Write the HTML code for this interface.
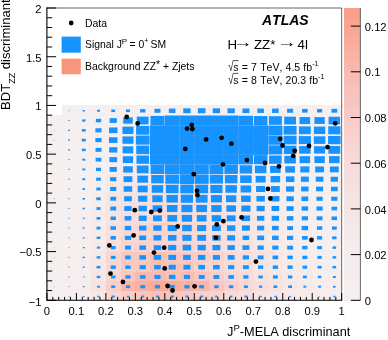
<!DOCTYPE html>
<html><head><meta charset="utf-8"><title>ATLAS plot</title>
<style>html,body{margin:0;padding:0;background:#fff}svg{display:block;will-change:transform}</style>
</head><body>
<svg width="388" height="340" viewBox="0 0 388 340" font-family="'Liberation Sans', Arial, sans-serif" fill="#000" style="font-kerning:none">
<rect width="388" height="340" fill="#fff"/>
<clipPath id="fr"><rect x="46.90" y="8.00" width="294.80" height="292.80"/></clipPath>
<g clip-path="url(#fr)">
<g shape-rendering="crispEdges">
<rect x="61.64" y="105.43" width="14.79" height="9.83" fill="#f6efef"/>
<rect x="76.38" y="105.43" width="14.79" height="9.83" fill="#f6efef"/>
<rect x="91.12" y="105.43" width="14.79" height="9.83" fill="#f6efef"/>
<rect x="105.86" y="105.43" width="14.79" height="9.83" fill="#f6efef"/>
<rect x="120.60" y="105.43" width="14.79" height="9.83" fill="#f6efef"/>
<rect x="135.34" y="105.43" width="14.79" height="9.83" fill="#f6efef"/>
<rect x="150.08" y="105.43" width="14.79" height="9.83" fill="#f6efef"/>
<rect x="164.82" y="105.43" width="14.79" height="9.83" fill="#f6efef"/>
<rect x="179.56" y="105.43" width="14.79" height="9.83" fill="#f6efef"/>
<rect x="194.30" y="105.43" width="14.79" height="9.83" fill="#f6efef"/>
<rect x="209.04" y="105.43" width="14.79" height="9.83" fill="#f6efef"/>
<rect x="223.78" y="105.43" width="14.79" height="9.83" fill="#f6efef"/>
<rect x="238.52" y="105.43" width="14.79" height="9.83" fill="#f6efef"/>
<rect x="253.26" y="105.43" width="14.79" height="9.83" fill="#f6efef"/>
<rect x="268.00" y="105.43" width="14.79" height="9.83" fill="#f6efef"/>
<rect x="282.74" y="105.43" width="14.79" height="9.83" fill="#f6efef"/>
<rect x="297.48" y="105.43" width="14.79" height="9.83" fill="#f6efef"/>
<rect x="312.22" y="105.43" width="14.79" height="9.83" fill="#f6efef"/>
<rect x="326.96" y="105.43" width="14.79" height="9.83" fill="#f6efef"/>
<rect x="46.90" y="115.21" width="14.79" height="9.83" fill="#f6efef"/>
<rect x="61.64" y="115.21" width="14.79" height="9.83" fill="#f6efef"/>
<rect x="76.38" y="115.21" width="14.79" height="9.83" fill="#f6efef"/>
<rect x="91.12" y="115.21" width="14.79" height="9.83" fill="#f6efef"/>
<rect x="105.86" y="115.21" width="14.79" height="9.83" fill="#f6efef"/>
<rect x="120.60" y="115.21" width="14.79" height="9.83" fill="#f6efef"/>
<rect x="135.34" y="115.21" width="14.79" height="9.83" fill="#f6efef"/>
<rect x="150.08" y="115.21" width="14.79" height="9.83" fill="#f6efee"/>
<rect x="164.82" y="115.21" width="14.79" height="9.83" fill="#f6efef"/>
<rect x="179.56" y="115.21" width="14.79" height="9.83" fill="#f6efef"/>
<rect x="194.30" y="115.21" width="14.79" height="9.83" fill="#f6efef"/>
<rect x="209.04" y="115.21" width="14.79" height="9.83" fill="#f6efef"/>
<rect x="223.78" y="115.21" width="14.79" height="9.83" fill="#f6efef"/>
<rect x="238.52" y="115.21" width="14.79" height="9.83" fill="#f6efef"/>
<rect x="253.26" y="115.21" width="14.79" height="9.83" fill="#f6efef"/>
<rect x="268.00" y="115.21" width="14.79" height="9.83" fill="#f6efef"/>
<rect x="282.74" y="115.21" width="14.79" height="9.83" fill="#f6efef"/>
<rect x="297.48" y="115.21" width="14.79" height="9.83" fill="#f6efef"/>
<rect x="312.22" y="115.21" width="14.79" height="9.83" fill="#f6efef"/>
<rect x="326.96" y="115.21" width="14.79" height="9.83" fill="#f6efef"/>
<rect x="46.90" y="124.98" width="14.79" height="9.83" fill="#f6efef"/>
<rect x="61.64" y="124.98" width="14.79" height="9.83" fill="#f6efef"/>
<rect x="76.38" y="124.98" width="14.79" height="9.83" fill="#f6efef"/>
<rect x="91.12" y="124.98" width="14.79" height="9.83" fill="#f6efef"/>
<rect x="105.86" y="124.98" width="14.79" height="9.83" fill="#f6efef"/>
<rect x="120.60" y="124.98" width="14.79" height="9.83" fill="#f6efef"/>
<rect x="135.34" y="124.98" width="14.79" height="9.83" fill="#f6efef"/>
<rect x="150.08" y="124.98" width="14.79" height="9.83" fill="#f6efee"/>
<rect x="164.82" y="124.98" width="14.79" height="9.83" fill="#f6efef"/>
<rect x="179.56" y="124.98" width="14.79" height="9.83" fill="#f6efef"/>
<rect x="194.30" y="124.98" width="14.79" height="9.83" fill="#f6efef"/>
<rect x="209.04" y="124.98" width="14.79" height="9.83" fill="#f6efef"/>
<rect x="223.78" y="124.98" width="14.79" height="9.83" fill="#f6efef"/>
<rect x="238.52" y="124.98" width="14.79" height="9.83" fill="#f6efef"/>
<rect x="253.26" y="124.98" width="14.79" height="9.83" fill="#f6efef"/>
<rect x="268.00" y="124.98" width="14.79" height="9.83" fill="#f6efef"/>
<rect x="282.74" y="124.98" width="14.79" height="9.83" fill="#f6efef"/>
<rect x="297.48" y="124.98" width="14.79" height="9.83" fill="#f6efef"/>
<rect x="312.22" y="124.98" width="14.79" height="9.83" fill="#f6efef"/>
<rect x="326.96" y="124.98" width="14.79" height="9.83" fill="#f6efef"/>
<rect x="46.90" y="134.76" width="14.79" height="9.83" fill="#f6efef"/>
<rect x="61.64" y="134.76" width="14.79" height="9.83" fill="#f6efef"/>
<rect x="76.38" y="134.76" width="14.79" height="9.83" fill="#f6efef"/>
<rect x="91.12" y="134.76" width="14.79" height="9.83" fill="#f6efef"/>
<rect x="105.86" y="134.76" width="14.79" height="9.83" fill="#f6efef"/>
<rect x="120.60" y="134.76" width="14.79" height="9.83" fill="#f6efef"/>
<rect x="135.34" y="134.76" width="14.79" height="9.83" fill="#f6efee"/>
<rect x="150.08" y="134.76" width="14.79" height="9.83" fill="#f6efee"/>
<rect x="164.82" y="134.76" width="14.79" height="9.83" fill="#f6efef"/>
<rect x="179.56" y="134.76" width="14.79" height="9.83" fill="#f6efef"/>
<rect x="194.30" y="134.76" width="14.79" height="9.83" fill="#f6efef"/>
<rect x="209.04" y="134.76" width="14.79" height="9.83" fill="#f6efef"/>
<rect x="223.78" y="134.76" width="14.79" height="9.83" fill="#f6efef"/>
<rect x="238.52" y="134.76" width="14.79" height="9.83" fill="#f6efef"/>
<rect x="253.26" y="134.76" width="14.79" height="9.83" fill="#f6efef"/>
<rect x="268.00" y="134.76" width="14.79" height="9.83" fill="#f6efef"/>
<rect x="282.74" y="134.76" width="14.79" height="9.83" fill="#f6efef"/>
<rect x="297.48" y="134.76" width="14.79" height="9.83" fill="#f6efef"/>
<rect x="312.22" y="134.76" width="14.79" height="9.83" fill="#f6efef"/>
<rect x="326.96" y="134.76" width="14.79" height="9.83" fill="#f6efef"/>
<rect x="46.90" y="144.53" width="14.79" height="9.83" fill="#f6efef"/>
<rect x="61.64" y="144.53" width="14.79" height="9.83" fill="#f6efef"/>
<rect x="76.38" y="144.53" width="14.79" height="9.83" fill="#f6efef"/>
<rect x="91.12" y="144.53" width="14.79" height="9.83" fill="#f6efef"/>
<rect x="105.86" y="144.53" width="14.79" height="9.83" fill="#f6efef"/>
<rect x="120.60" y="144.53" width="14.79" height="9.83" fill="#f6efef"/>
<rect x="135.34" y="144.53" width="14.79" height="9.83" fill="#f6efef"/>
<rect x="150.08" y="144.53" width="14.79" height="9.83" fill="#f6efee"/>
<rect x="164.82" y="144.53" width="14.79" height="9.83" fill="#f6efef"/>
<rect x="179.56" y="144.53" width="14.79" height="9.83" fill="#f6efef"/>
<rect x="194.30" y="144.53" width="14.79" height="9.83" fill="#f6efef"/>
<rect x="209.04" y="144.53" width="14.79" height="9.83" fill="#f6efef"/>
<rect x="223.78" y="144.53" width="14.79" height="9.83" fill="#f6efef"/>
<rect x="238.52" y="144.53" width="14.79" height="9.83" fill="#f6efef"/>
<rect x="253.26" y="144.53" width="14.79" height="9.83" fill="#f6efef"/>
<rect x="268.00" y="144.53" width="14.79" height="9.83" fill="#f6efef"/>
<rect x="282.74" y="144.53" width="14.79" height="9.83" fill="#f6efef"/>
<rect x="297.48" y="144.53" width="14.79" height="9.83" fill="#f6efef"/>
<rect x="312.22" y="144.53" width="14.79" height="9.83" fill="#f6efef"/>
<rect x="326.96" y="144.53" width="14.79" height="9.83" fill="#f6efef"/>
<rect x="46.90" y="154.31" width="14.79" height="9.83" fill="#f6efef"/>
<rect x="61.64" y="154.31" width="14.79" height="9.83" fill="#f6efef"/>
<rect x="76.38" y="154.31" width="14.79" height="9.83" fill="#f6efef"/>
<rect x="91.12" y="154.31" width="14.79" height="9.83" fill="#f6efef"/>
<rect x="105.86" y="154.31" width="14.79" height="9.83" fill="#f6eeee"/>
<rect x="120.60" y="154.31" width="14.79" height="9.83" fill="#f6eded"/>
<rect x="135.34" y="154.31" width="14.79" height="9.83" fill="#f6eded"/>
<rect x="150.08" y="154.31" width="14.79" height="9.83" fill="#f6edec"/>
<rect x="164.82" y="154.31" width="14.79" height="9.83" fill="#f6edec"/>
<rect x="179.56" y="154.31" width="14.79" height="9.83" fill="#f6eded"/>
<rect x="194.30" y="154.31" width="14.79" height="9.83" fill="#f6eded"/>
<rect x="209.04" y="154.31" width="14.79" height="9.83" fill="#f6eeed"/>
<rect x="223.78" y="154.31" width="14.79" height="9.83" fill="#f6eeee"/>
<rect x="238.52" y="154.31" width="14.79" height="9.83" fill="#f6efee"/>
<rect x="253.26" y="154.31" width="14.79" height="9.83" fill="#f6efef"/>
<rect x="268.00" y="154.31" width="14.79" height="9.83" fill="#f6efef"/>
<rect x="282.74" y="154.31" width="14.79" height="9.83" fill="#f6efef"/>
<rect x="297.48" y="154.31" width="14.79" height="9.83" fill="#f6efef"/>
<rect x="312.22" y="154.31" width="14.79" height="9.83" fill="#f6efef"/>
<rect x="326.96" y="154.31" width="14.79" height="9.83" fill="#f6efef"/>
<rect x="46.90" y="164.08" width="14.79" height="9.83" fill="#f6efef"/>
<rect x="61.64" y="164.08" width="14.79" height="9.83" fill="#f6efef"/>
<rect x="76.38" y="164.08" width="14.79" height="9.83" fill="#f6efef"/>
<rect x="91.12" y="164.08" width="14.79" height="9.83" fill="#f6efef"/>
<rect x="105.86" y="164.08" width="14.79" height="9.83" fill="#f6edec"/>
<rect x="120.60" y="164.08" width="14.79" height="9.83" fill="#f6ebea"/>
<rect x="135.34" y="164.08" width="14.79" height="9.83" fill="#f7ebea"/>
<rect x="150.08" y="164.08" width="14.79" height="9.83" fill="#f7ebea"/>
<rect x="164.82" y="164.08" width="14.79" height="9.83" fill="#f7eaea"/>
<rect x="179.56" y="164.08" width="14.79" height="9.83" fill="#f6ebea"/>
<rect x="194.30" y="164.08" width="14.79" height="9.83" fill="#f6eceb"/>
<rect x="209.04" y="164.08" width="14.79" height="9.83" fill="#f6ecec"/>
<rect x="223.78" y="164.08" width="14.79" height="9.83" fill="#f6eded"/>
<rect x="238.52" y="164.08" width="14.79" height="9.83" fill="#f6eeed"/>
<rect x="253.26" y="164.08" width="14.79" height="9.83" fill="#f6eeee"/>
<rect x="268.00" y="164.08" width="14.79" height="9.83" fill="#f6efee"/>
<rect x="282.74" y="164.08" width="14.79" height="9.83" fill="#f6efef"/>
<rect x="297.48" y="164.08" width="14.79" height="9.83" fill="#f6efef"/>
<rect x="312.22" y="164.08" width="14.79" height="9.83" fill="#f6efef"/>
<rect x="326.96" y="164.08" width="14.79" height="9.83" fill="#f6efef"/>
<rect x="46.90" y="173.86" width="14.79" height="9.83" fill="#f6efef"/>
<rect x="61.64" y="173.86" width="14.79" height="9.83" fill="#f6efef"/>
<rect x="76.38" y="173.86" width="14.79" height="9.83" fill="#f6efef"/>
<rect x="91.12" y="173.86" width="14.79" height="9.83" fill="#f6eeee"/>
<rect x="105.86" y="173.86" width="14.79" height="9.83" fill="#f7ebea"/>
<rect x="120.60" y="173.86" width="14.79" height="9.83" fill="#f7e8e7"/>
<rect x="135.34" y="173.86" width="14.79" height="9.83" fill="#f7e8e7"/>
<rect x="150.08" y="173.86" width="14.79" height="9.83" fill="#f7e8e6"/>
<rect x="164.82" y="173.86" width="14.79" height="9.83" fill="#f7e7e6"/>
<rect x="179.56" y="173.86" width="14.79" height="9.83" fill="#f7e8e7"/>
<rect x="194.30" y="173.86" width="14.79" height="9.83" fill="#f7e9e7"/>
<rect x="209.04" y="173.86" width="14.79" height="9.83" fill="#f7eae9"/>
<rect x="223.78" y="173.86" width="14.79" height="9.83" fill="#f6ebeb"/>
<rect x="238.52" y="173.86" width="14.79" height="9.83" fill="#f6eceb"/>
<rect x="253.26" y="173.86" width="14.79" height="9.83" fill="#f6eded"/>
<rect x="268.00" y="173.86" width="14.79" height="9.83" fill="#f6eeee"/>
<rect x="282.74" y="173.86" width="14.79" height="9.83" fill="#f6efee"/>
<rect x="297.48" y="173.86" width="14.79" height="9.83" fill="#f6efef"/>
<rect x="312.22" y="173.86" width="14.79" height="9.83" fill="#f6efef"/>
<rect x="326.96" y="173.86" width="14.79" height="9.83" fill="#f6efef"/>
<rect x="46.90" y="183.63" width="14.79" height="9.83" fill="#f6efef"/>
<rect x="61.64" y="183.63" width="14.79" height="9.83" fill="#f6efef"/>
<rect x="76.38" y="183.63" width="14.79" height="9.83" fill="#f6efef"/>
<rect x="91.12" y="183.63" width="14.79" height="9.83" fill="#f6eded"/>
<rect x="105.86" y="183.63" width="14.79" height="9.83" fill="#f7e9e8"/>
<rect x="120.60" y="183.63" width="14.79" height="9.83" fill="#f7e4e2"/>
<rect x="135.34" y="183.63" width="14.79" height="9.83" fill="#f7e4e2"/>
<rect x="150.08" y="183.63" width="14.79" height="9.83" fill="#f7e3e1"/>
<rect x="164.82" y="183.63" width="14.79" height="9.83" fill="#f7e4e2"/>
<rect x="179.56" y="183.63" width="14.79" height="9.83" fill="#f7e5e3"/>
<rect x="194.30" y="183.63" width="14.79" height="9.83" fill="#f7e5e4"/>
<rect x="209.04" y="183.63" width="14.79" height="9.83" fill="#f7e7e5"/>
<rect x="223.78" y="183.63" width="14.79" height="9.83" fill="#f7e9e7"/>
<rect x="238.52" y="183.63" width="14.79" height="9.83" fill="#f7eaea"/>
<rect x="253.26" y="183.63" width="14.79" height="9.83" fill="#f6eceb"/>
<rect x="268.00" y="183.63" width="14.79" height="9.83" fill="#f6eded"/>
<rect x="282.74" y="183.63" width="14.79" height="9.83" fill="#f6eeee"/>
<rect x="297.48" y="183.63" width="14.79" height="9.83" fill="#f6efef"/>
<rect x="312.22" y="183.63" width="14.79" height="9.83" fill="#f6efef"/>
<rect x="326.96" y="183.63" width="14.79" height="9.83" fill="#f6efef"/>
<rect x="46.90" y="193.41" width="14.79" height="9.83" fill="#f6efef"/>
<rect x="61.64" y="193.41" width="14.79" height="9.83" fill="#f6efef"/>
<rect x="76.38" y="193.41" width="14.79" height="9.83" fill="#f6efef"/>
<rect x="91.12" y="193.41" width="14.79" height="9.83" fill="#f6ecec"/>
<rect x="105.86" y="193.41" width="14.79" height="9.83" fill="#f7e5e4"/>
<rect x="120.60" y="193.41" width="14.79" height="9.83" fill="#f7e1df"/>
<rect x="135.34" y="193.41" width="14.79" height="9.83" fill="#f8dfdc"/>
<rect x="150.08" y="193.41" width="14.79" height="9.83" fill="#f8dedb"/>
<rect x="164.82" y="193.41" width="14.79" height="9.83" fill="#f8dfdc"/>
<rect x="179.56" y="193.41" width="14.79" height="9.83" fill="#f7e1df"/>
<rect x="194.30" y="193.41" width="14.79" height="9.83" fill="#f7e3e1"/>
<rect x="209.04" y="193.41" width="14.79" height="9.83" fill="#f7e5e3"/>
<rect x="223.78" y="193.41" width="14.79" height="9.83" fill="#f7e7e6"/>
<rect x="238.52" y="193.41" width="14.79" height="9.83" fill="#f7e9e8"/>
<rect x="253.26" y="193.41" width="14.79" height="9.83" fill="#f7ebea"/>
<rect x="268.00" y="193.41" width="14.79" height="9.83" fill="#f6ecec"/>
<rect x="282.74" y="193.41" width="14.79" height="9.83" fill="#f6eded"/>
<rect x="297.48" y="193.41" width="14.79" height="9.83" fill="#f6eeee"/>
<rect x="312.22" y="193.41" width="14.79" height="9.83" fill="#f6efef"/>
<rect x="326.96" y="193.41" width="14.79" height="9.83" fill="#f6efef"/>
<rect x="46.90" y="203.18" width="14.79" height="9.83" fill="#f6efef"/>
<rect x="61.64" y="203.18" width="14.79" height="9.83" fill="#f6efef"/>
<rect x="76.38" y="203.18" width="14.79" height="9.83" fill="#f6efee"/>
<rect x="91.12" y="203.18" width="14.79" height="9.83" fill="#f6eceb"/>
<rect x="105.86" y="203.18" width="14.79" height="9.83" fill="#f7e4e2"/>
<rect x="120.60" y="203.18" width="14.79" height="9.83" fill="#f8dfdd"/>
<rect x="135.34" y="203.18" width="14.79" height="9.83" fill="#f8dedb"/>
<rect x="150.08" y="203.18" width="14.79" height="9.83" fill="#f8dcd9"/>
<rect x="164.82" y="203.18" width="14.79" height="9.83" fill="#f8dedb"/>
<rect x="179.56" y="203.18" width="14.79" height="9.83" fill="#f8dedb"/>
<rect x="194.30" y="203.18" width="14.79" height="9.83" fill="#f8e0dd"/>
<rect x="209.04" y="203.18" width="14.79" height="9.83" fill="#f7e3e1"/>
<rect x="223.78" y="203.18" width="14.79" height="9.83" fill="#f7e6e4"/>
<rect x="238.52" y="203.18" width="14.79" height="9.83" fill="#f7e7e6"/>
<rect x="253.26" y="203.18" width="14.79" height="9.83" fill="#f7eae9"/>
<rect x="268.00" y="203.18" width="14.79" height="9.83" fill="#f6eceb"/>
<rect x="282.74" y="203.18" width="14.79" height="9.83" fill="#f6eded"/>
<rect x="297.48" y="203.18" width="14.79" height="9.83" fill="#f6eeee"/>
<rect x="312.22" y="203.18" width="14.79" height="9.83" fill="#f6efef"/>
<rect x="326.96" y="203.18" width="14.79" height="9.83" fill="#f6efef"/>
<rect x="46.90" y="212.96" width="14.79" height="9.83" fill="#f6efef"/>
<rect x="61.64" y="212.96" width="14.79" height="9.83" fill="#f6efef"/>
<rect x="76.38" y="212.96" width="14.79" height="9.83" fill="#f6eeee"/>
<rect x="91.12" y="212.96" width="14.79" height="9.83" fill="#f6ebea"/>
<rect x="105.86" y="212.96" width="14.79" height="9.83" fill="#f7e3e1"/>
<rect x="120.60" y="212.96" width="14.79" height="9.83" fill="#f8ddda"/>
<rect x="135.34" y="212.96" width="14.79" height="9.83" fill="#f8dcd9"/>
<rect x="150.08" y="212.96" width="14.79" height="9.83" fill="#f8dcd9"/>
<rect x="164.82" y="212.96" width="14.79" height="9.83" fill="#f8d9d6"/>
<rect x="179.56" y="212.96" width="14.79" height="9.83" fill="#f8dcd9"/>
<rect x="194.30" y="212.96" width="14.79" height="9.83" fill="#f8dfdc"/>
<rect x="209.04" y="212.96" width="14.79" height="9.83" fill="#f7e0de"/>
<rect x="223.78" y="212.96" width="14.79" height="9.83" fill="#f7e4e2"/>
<rect x="238.52" y="212.96" width="14.79" height="9.83" fill="#f7e6e5"/>
<rect x="253.26" y="212.96" width="14.79" height="9.83" fill="#f7e9e8"/>
<rect x="268.00" y="212.96" width="14.79" height="9.83" fill="#f6ebeb"/>
<rect x="282.74" y="212.96" width="14.79" height="9.83" fill="#f6edec"/>
<rect x="297.48" y="212.96" width="14.79" height="9.83" fill="#f6eeee"/>
<rect x="312.22" y="212.96" width="14.79" height="9.83" fill="#f6efef"/>
<rect x="326.96" y="212.96" width="14.79" height="9.83" fill="#f6efef"/>
<rect x="46.90" y="222.73" width="14.79" height="9.83" fill="#f6efef"/>
<rect x="61.64" y="222.73" width="14.79" height="9.83" fill="#f6efef"/>
<rect x="76.38" y="222.73" width="14.79" height="9.83" fill="#f6eeee"/>
<rect x="91.12" y="222.73" width="14.79" height="9.83" fill="#f7eae9"/>
<rect x="105.86" y="222.73" width="14.79" height="9.83" fill="#f7e1df"/>
<rect x="120.60" y="222.73" width="14.79" height="9.83" fill="#f8dad6"/>
<rect x="135.34" y="222.73" width="14.79" height="9.83" fill="#f8d7d3"/>
<rect x="150.08" y="222.73" width="14.79" height="9.83" fill="#f9d5d1"/>
<rect x="164.82" y="222.73" width="14.79" height="9.83" fill="#f8d7d3"/>
<rect x="179.56" y="222.73" width="14.79" height="9.83" fill="#f8d8d4"/>
<rect x="194.30" y="222.73" width="14.79" height="9.83" fill="#f8dcd8"/>
<rect x="209.04" y="222.73" width="14.79" height="9.83" fill="#f8dfdc"/>
<rect x="223.78" y="222.73" width="14.79" height="9.83" fill="#f7e2e0"/>
<rect x="238.52" y="222.73" width="14.79" height="9.83" fill="#f7e6e4"/>
<rect x="253.26" y="222.73" width="14.79" height="9.83" fill="#f7e8e7"/>
<rect x="268.00" y="222.73" width="14.79" height="9.83" fill="#f7ebea"/>
<rect x="282.74" y="222.73" width="14.79" height="9.83" fill="#f6ecec"/>
<rect x="297.48" y="222.73" width="14.79" height="9.83" fill="#f6eded"/>
<rect x="312.22" y="222.73" width="14.79" height="9.83" fill="#f6efee"/>
<rect x="326.96" y="222.73" width="14.79" height="9.83" fill="#f6efef"/>
<rect x="46.90" y="232.51" width="14.79" height="9.83" fill="#f6efef"/>
<rect x="61.64" y="232.51" width="14.79" height="9.83" fill="#f6efef"/>
<rect x="76.38" y="232.51" width="14.79" height="9.83" fill="#f6eeee"/>
<rect x="91.12" y="232.51" width="14.79" height="9.83" fill="#f7eae9"/>
<rect x="105.86" y="232.51" width="14.79" height="9.83" fill="#f8e0dd"/>
<rect x="120.60" y="232.51" width="14.79" height="9.83" fill="#f8d7d4"/>
<rect x="135.34" y="232.51" width="14.79" height="9.83" fill="#f8d7d4"/>
<rect x="150.08" y="232.51" width="14.79" height="9.83" fill="#f9d5d1"/>
<rect x="164.82" y="232.51" width="14.79" height="9.83" fill="#f8d7d3"/>
<rect x="179.56" y="232.51" width="14.79" height="9.83" fill="#f8d9d5"/>
<rect x="194.30" y="232.51" width="14.79" height="9.83" fill="#f8dad6"/>
<rect x="209.04" y="232.51" width="14.79" height="9.83" fill="#f8dedb"/>
<rect x="223.78" y="232.51" width="14.79" height="9.83" fill="#f7e1df"/>
<rect x="238.52" y="232.51" width="14.79" height="9.83" fill="#f7e4e2"/>
<rect x="253.26" y="232.51" width="14.79" height="9.83" fill="#f7e7e5"/>
<rect x="268.00" y="232.51" width="14.79" height="9.83" fill="#f7eae9"/>
<rect x="282.74" y="232.51" width="14.79" height="9.83" fill="#f6eceb"/>
<rect x="297.48" y="232.51" width="14.79" height="9.83" fill="#f6eded"/>
<rect x="312.22" y="232.51" width="14.79" height="9.83" fill="#f6eeee"/>
<rect x="326.96" y="232.51" width="14.79" height="9.83" fill="#f6efef"/>
<rect x="46.90" y="242.28" width="14.79" height="9.83" fill="#f6efef"/>
<rect x="61.64" y="242.28" width="14.79" height="9.83" fill="#f6efef"/>
<rect x="76.38" y="242.28" width="14.79" height="9.83" fill="#f6eeee"/>
<rect x="91.12" y="242.28" width="14.79" height="9.83" fill="#f7e9e8"/>
<rect x="105.86" y="242.28" width="14.79" height="9.83" fill="#f8dedb"/>
<rect x="120.60" y="242.28" width="14.79" height="9.83" fill="#f9d5d1"/>
<rect x="135.34" y="242.28" width="14.79" height="9.83" fill="#f9d2ce"/>
<rect x="150.08" y="242.28" width="14.79" height="9.83" fill="#f9d4d0"/>
<rect x="164.82" y="242.28" width="14.79" height="9.83" fill="#f9d4cf"/>
<rect x="179.56" y="242.28" width="14.79" height="9.83" fill="#f9d4d0"/>
<rect x="194.30" y="242.28" width="14.79" height="9.83" fill="#f8d8d4"/>
<rect x="209.04" y="242.28" width="14.79" height="9.83" fill="#f8dddb"/>
<rect x="223.78" y="242.28" width="14.79" height="9.83" fill="#f7e1df"/>
<rect x="238.52" y="242.28" width="14.79" height="9.83" fill="#f7e4e2"/>
<rect x="253.26" y="242.28" width="14.79" height="9.83" fill="#f7e7e6"/>
<rect x="268.00" y="242.28" width="14.79" height="9.83" fill="#f7eae9"/>
<rect x="282.74" y="242.28" width="14.79" height="9.83" fill="#f6eceb"/>
<rect x="297.48" y="242.28" width="14.79" height="9.83" fill="#f6eded"/>
<rect x="312.22" y="242.28" width="14.79" height="9.83" fill="#f6eeee"/>
<rect x="326.96" y="242.28" width="14.79" height="9.83" fill="#f6efef"/>
<rect x="46.90" y="252.06" width="14.79" height="9.83" fill="#f6efef"/>
<rect x="61.64" y="252.06" width="14.79" height="9.83" fill="#f6efef"/>
<rect x="76.38" y="252.06" width="14.79" height="9.83" fill="#f6eded"/>
<rect x="91.12" y="252.06" width="14.79" height="9.83" fill="#f7e8e6"/>
<rect x="105.86" y="252.06" width="14.79" height="9.83" fill="#f8d7d3"/>
<rect x="120.60" y="252.06" width="14.79" height="9.83" fill="#f9c8c0"/>
<rect x="135.34" y="252.06" width="14.79" height="9.83" fill="#f9c8c1"/>
<rect x="150.08" y="252.06" width="14.79" height="9.83" fill="#f9c0b6"/>
<rect x="164.82" y="252.06" width="14.79" height="9.83" fill="#f9c6be"/>
<rect x="179.56" y="252.06" width="14.79" height="9.83" fill="#f9cac3"/>
<rect x="194.30" y="252.06" width="14.79" height="9.83" fill="#f9cdc7"/>
<rect x="209.04" y="252.06" width="14.79" height="9.83" fill="#f9d4cf"/>
<rect x="223.78" y="252.06" width="14.79" height="9.83" fill="#f8dbd8"/>
<rect x="238.52" y="252.06" width="14.79" height="9.83" fill="#f8dfdd"/>
<rect x="253.26" y="252.06" width="14.79" height="9.83" fill="#f7e3e1"/>
<rect x="268.00" y="252.06" width="14.79" height="9.83" fill="#f7e7e6"/>
<rect x="282.74" y="252.06" width="14.79" height="9.83" fill="#f7eae9"/>
<rect x="297.48" y="252.06" width="14.79" height="9.83" fill="#f6ecec"/>
<rect x="312.22" y="252.06" width="14.79" height="9.83" fill="#f6eeed"/>
<rect x="326.96" y="252.06" width="14.79" height="9.83" fill="#f6efee"/>
<rect x="46.90" y="261.83" width="14.79" height="9.83" fill="#f6efef"/>
<rect x="61.64" y="261.83" width="14.79" height="9.83" fill="#f6efef"/>
<rect x="76.38" y="261.83" width="14.79" height="9.83" fill="#f6eded"/>
<rect x="91.12" y="261.83" width="14.79" height="9.83" fill="#f7e7e6"/>
<rect x="105.86" y="261.83" width="14.79" height="9.83" fill="#f8d8d4"/>
<rect x="120.60" y="261.83" width="14.79" height="9.83" fill="#f9cbc5"/>
<rect x="135.34" y="261.83" width="14.79" height="9.83" fill="#f9cac2"/>
<rect x="150.08" y="261.83" width="14.79" height="9.83" fill="#f9c0b6"/>
<rect x="164.82" y="261.83" width="14.79" height="9.83" fill="#f9c3ba"/>
<rect x="179.56" y="261.83" width="14.79" height="9.83" fill="#f9c7be"/>
<rect x="194.30" y="261.83" width="14.79" height="9.83" fill="#f9d2cd"/>
<rect x="209.04" y="261.83" width="14.79" height="9.83" fill="#f8d6d2"/>
<rect x="223.78" y="261.83" width="14.79" height="9.83" fill="#f8dcd8"/>
<rect x="238.52" y="261.83" width="14.79" height="9.83" fill="#f8dfdc"/>
<rect x="253.26" y="261.83" width="14.79" height="9.83" fill="#f7e4e2"/>
<rect x="268.00" y="261.83" width="14.79" height="9.83" fill="#f7e8e6"/>
<rect x="282.74" y="261.83" width="14.79" height="9.83" fill="#f7eae9"/>
<rect x="297.48" y="261.83" width="14.79" height="9.83" fill="#f6eceb"/>
<rect x="312.22" y="261.83" width="14.79" height="9.83" fill="#f6eeed"/>
<rect x="326.96" y="261.83" width="14.79" height="9.83" fill="#f6eeee"/>
<rect x="46.90" y="271.61" width="14.79" height="9.83" fill="#f6efef"/>
<rect x="61.64" y="271.61" width="14.79" height="9.83" fill="#f6efee"/>
<rect x="76.38" y="271.61" width="14.79" height="9.83" fill="#f6edec"/>
<rect x="91.12" y="271.61" width="14.79" height="9.83" fill="#f7e6e4"/>
<rect x="105.86" y="271.61" width="14.79" height="9.83" fill="#f8d6d2"/>
<rect x="120.60" y="271.61" width="14.79" height="9.83" fill="#f9c7bf"/>
<rect x="135.34" y="271.61" width="14.79" height="9.83" fill="#f9baae"/>
<rect x="150.08" y="271.61" width="14.79" height="9.83" fill="#f9bbaf"/>
<rect x="164.82" y="271.61" width="14.79" height="9.83" fill="#f9c0b5"/>
<rect x="179.56" y="271.61" width="14.79" height="9.83" fill="#f9bdb2"/>
<rect x="194.30" y="271.61" width="14.79" height="9.83" fill="#f9c7c0"/>
<rect x="209.04" y="271.61" width="14.79" height="9.83" fill="#f9cfca"/>
<rect x="223.78" y="271.61" width="14.79" height="9.83" fill="#f8d8d4"/>
<rect x="238.52" y="271.61" width="14.79" height="9.83" fill="#f8dcd9"/>
<rect x="253.26" y="271.61" width="14.79" height="9.83" fill="#f7e2e0"/>
<rect x="268.00" y="271.61" width="14.79" height="9.83" fill="#f7e5e4"/>
<rect x="282.74" y="271.61" width="14.79" height="9.83" fill="#f7e9e8"/>
<rect x="297.48" y="271.61" width="14.79" height="9.83" fill="#f6ebeb"/>
<rect x="312.22" y="271.61" width="14.79" height="9.83" fill="#f6eded"/>
<rect x="326.96" y="271.61" width="14.79" height="9.83" fill="#f6eeee"/>
<rect x="46.90" y="281.38" width="14.79" height="9.83" fill="#f6efef"/>
<rect x="61.64" y="281.38" width="14.79" height="9.83" fill="#f6eeee"/>
<rect x="76.38" y="281.38" width="14.79" height="9.83" fill="#f6eceb"/>
<rect x="91.12" y="281.38" width="14.79" height="9.83" fill="#f7e4e2"/>
<rect x="105.86" y="281.38" width="14.79" height="9.83" fill="#f9cfca"/>
<rect x="120.60" y="281.38" width="14.79" height="9.83" fill="#f9b7a9"/>
<rect x="135.34" y="281.38" width="14.79" height="9.83" fill="#f9b0a1"/>
<rect x="150.08" y="281.38" width="14.79" height="9.83" fill="#f9ab9a"/>
<rect x="164.82" y="281.38" width="14.79" height="9.83" fill="#f9ac9b"/>
<rect x="179.56" y="281.38" width="14.79" height="9.83" fill="#f9b3a5"/>
<rect x="194.30" y="281.38" width="14.79" height="9.83" fill="#f9b7aa"/>
<rect x="209.04" y="281.38" width="14.79" height="9.83" fill="#f9c7bf"/>
<rect x="223.78" y="281.38" width="14.79" height="9.83" fill="#f9d0cb"/>
<rect x="238.52" y="281.38" width="14.79" height="9.83" fill="#f8d9d5"/>
<rect x="253.26" y="281.38" width="14.79" height="9.83" fill="#f8dedb"/>
<rect x="268.00" y="281.38" width="14.79" height="9.83" fill="#f7e4e2"/>
<rect x="282.74" y="281.38" width="14.79" height="9.83" fill="#f7e8e6"/>
<rect x="297.48" y="281.38" width="14.79" height="9.83" fill="#f7ebea"/>
<rect x="312.22" y="281.38" width="14.79" height="9.83" fill="#f6ecec"/>
<rect x="326.96" y="281.38" width="14.79" height="9.83" fill="#f6eeed"/>
<rect x="46.90" y="291.16" width="14.79" height="9.83" fill="#f6efef"/>
<rect x="61.64" y="291.16" width="14.79" height="9.83" fill="#f6efef"/>
<rect x="76.38" y="291.16" width="14.79" height="9.83" fill="#f6eded"/>
<rect x="91.12" y="291.16" width="14.79" height="9.83" fill="#f7e8e6"/>
<rect x="105.86" y="291.16" width="14.79" height="9.83" fill="#f8d7d3"/>
<rect x="120.60" y="291.16" width="14.79" height="9.83" fill="#f9ccc6"/>
<rect x="135.34" y="291.16" width="14.79" height="9.83" fill="#f9c6be"/>
<rect x="150.08" y="291.16" width="14.79" height="9.83" fill="#f9c1b7"/>
<rect x="164.82" y="291.16" width="14.79" height="9.83" fill="#f9c6be"/>
<rect x="179.56" y="291.16" width="14.79" height="9.83" fill="#f9cac3"/>
<rect x="194.30" y="291.16" width="14.79" height="9.83" fill="#f9cfca"/>
<rect x="209.04" y="291.16" width="14.79" height="9.83" fill="#f9d3cf"/>
<rect x="223.78" y="291.16" width="14.79" height="9.83" fill="#f8dbd7"/>
<rect x="238.52" y="291.16" width="14.79" height="9.83" fill="#f8dfdc"/>
<rect x="253.26" y="291.16" width="14.79" height="9.83" fill="#f7e3e1"/>
<rect x="268.00" y="291.16" width="14.79" height="9.83" fill="#f7e7e6"/>
<rect x="282.74" y="291.16" width="14.79" height="9.83" fill="#f7eae9"/>
<rect x="297.48" y="291.16" width="14.79" height="9.83" fill="#f6ecec"/>
<rect x="312.22" y="291.16" width="14.79" height="9.83" fill="#f6eeed"/>
<rect x="326.96" y="291.16" width="14.79" height="9.83" fill="#f6eeee"/>
</g>
<g fill="#1793ff">
<rect x="68.42" y="110.38" width="1.18" height="0.78"/>
<rect x="82.64" y="110.04" width="2.21" height="1.47"/>
<rect x="97.02" y="109.79" width="2.95" height="1.96"/>
<rect x="111.31" y="109.50" width="3.83" height="2.54"/>
<rect x="125.98" y="109.45" width="3.98" height="2.64"/>
<rect x="140.13" y="109.06" width="5.16" height="3.42"/>
<rect x="154.43" y="108.77" width="6.04" height="4.01"/>
<rect x="168.87" y="108.57" width="6.63" height="4.40"/>
<rect x="183.25" y="108.33" width="7.37" height="4.89"/>
<rect x="197.84" y="108.23" width="7.66" height="5.08"/>
<rect x="212.72" y="108.33" width="7.37" height="4.89"/>
<rect x="227.47" y="108.33" width="7.37" height="4.89"/>
<rect x="242.43" y="108.47" width="6.93" height="4.59"/>
<rect x="257.31" y="108.57" width="6.63" height="4.40"/>
<rect x="272.05" y="108.57" width="6.63" height="4.40"/>
<rect x="287.09" y="108.77" width="6.04" height="4.01"/>
<rect x="302.05" y="108.91" width="5.60" height="3.71"/>
<rect x="317.01" y="109.06" width="5.16" height="3.42"/>
<rect x="331.46" y="108.86" width="5.75" height="3.81"/>
<rect x="68.27" y="120.06" width="1.47" height="0.98"/>
<rect x="82.05" y="119.42" width="3.39" height="2.25"/>
<rect x="95.84" y="118.79" width="5.31" height="3.52"/>
<rect x="109.62" y="118.15" width="7.22" height="4.79"/>
<rect x="123.18" y="117.37" width="9.58" height="6.35"/>
<rect x="136.81" y="116.64" width="11.79" height="7.82"/>
<rect x="150.45" y="115.90" width="14.00" height="9.29"/>
<rect x="164.67" y="115.51" width="15.04" height="10.08"/>
<rect x="179.41" y="115.51" width="15.04" height="10.08"/>
<rect x="194.15" y="115.51" width="15.04" height="10.08"/>
<rect x="208.89" y="115.51" width="15.04" height="10.08"/>
<rect x="223.63" y="115.51" width="15.04" height="10.08"/>
<rect x="238.74" y="115.80" width="14.30" height="9.48"/>
<rect x="253.85" y="116.05" width="13.56" height="8.99"/>
<rect x="268.88" y="116.24" width="12.97" height="8.60"/>
<rect x="284.21" y="116.64" width="11.79" height="7.82"/>
<rect x="299.54" y="117.03" width="10.61" height="7.04"/>
<rect x="314.43" y="117.12" width="10.32" height="6.84"/>
<rect x="328.58" y="116.73" width="11.50" height="7.62"/>
<rect x="53.90" y="130.08" width="0.74" height="0.49"/>
<rect x="68.05" y="129.69" width="1.92" height="1.27"/>
<rect x="81.83" y="129.05" width="3.83" height="2.54"/>
<rect x="95.39" y="128.27" width="6.19" height="4.11"/>
<rect x="108.96" y="127.49" width="8.55" height="5.67"/>
<rect x="122.44" y="126.66" width="11.05" height="7.33"/>
<rect x="136.08" y="125.92" width="13.27" height="8.80"/>
<rect x="149.93" y="125.28" width="15.04" height="10.08"/>
<rect x="164.67" y="125.28" width="15.04" height="10.08"/>
<rect x="179.41" y="125.28" width="15.04" height="10.08"/>
<rect x="194.15" y="125.28" width="15.04" height="10.08"/>
<rect x="208.89" y="125.28" width="15.04" height="10.08"/>
<rect x="223.63" y="125.28" width="15.04" height="10.08"/>
<rect x="238.37" y="125.28" width="15.04" height="10.08"/>
<rect x="253.11" y="125.28" width="15.04" height="10.08"/>
<rect x="268.29" y="125.63" width="14.15" height="9.38"/>
<rect x="283.62" y="126.02" width="12.97" height="8.60"/>
<rect x="298.95" y="126.41" width="11.79" height="7.82"/>
<rect x="313.92" y="126.56" width="11.35" height="7.53"/>
<rect x="328.21" y="126.26" width="12.23" height="8.11"/>
<rect x="53.75" y="139.75" width="1.03" height="0.68"/>
<rect x="68.05" y="139.46" width="1.92" height="1.27"/>
<rect x="81.69" y="138.73" width="4.13" height="2.74"/>
<rect x="95.39" y="138.04" width="6.19" height="4.11"/>
<rect x="108.96" y="137.26" width="8.55" height="5.67"/>
<rect x="122.44" y="136.43" width="11.05" height="7.33"/>
<rect x="135.86" y="135.55" width="13.71" height="9.09"/>
<rect x="149.93" y="135.06" width="15.04" height="10.08"/>
<rect x="164.67" y="135.06" width="15.04" height="10.08"/>
<rect x="179.41" y="135.06" width="15.04" height="10.08"/>
<rect x="194.15" y="135.06" width="15.04" height="10.08"/>
<rect x="208.89" y="135.06" width="15.04" height="10.08"/>
<rect x="223.63" y="135.06" width="15.04" height="10.08"/>
<rect x="238.37" y="135.06" width="15.04" height="10.08"/>
<rect x="253.11" y="135.06" width="15.04" height="10.08"/>
<rect x="268.29" y="135.40" width="14.15" height="9.38"/>
<rect x="283.62" y="135.79" width="12.97" height="8.60"/>
<rect x="298.81" y="136.09" width="12.09" height="8.02"/>
<rect x="313.84" y="136.28" width="11.50" height="7.62"/>
<rect x="328.07" y="135.94" width="12.53" height="8.31"/>
<rect x="68.05" y="149.24" width="1.92" height="1.27"/>
<rect x="81.83" y="148.60" width="3.83" height="2.54"/>
<rect x="95.54" y="147.92" width="5.90" height="3.91"/>
<rect x="109.18" y="147.18" width="8.11" height="5.38"/>
<rect x="122.66" y="146.35" width="10.61" height="7.04"/>
<rect x="136.22" y="145.57" width="12.97" height="8.60"/>
<rect x="149.93" y="144.83" width="15.04" height="10.08"/>
<rect x="164.67" y="144.83" width="15.04" height="10.08"/>
<rect x="179.41" y="144.83" width="15.04" height="10.08"/>
<rect x="194.15" y="144.83" width="15.04" height="10.08"/>
<rect x="208.89" y="144.83" width="15.04" height="10.08"/>
<rect x="223.63" y="144.83" width="15.04" height="10.08"/>
<rect x="238.37" y="144.83" width="15.04" height="10.08"/>
<rect x="253.11" y="144.83" width="15.04" height="10.08"/>
<rect x="268.52" y="145.33" width="13.71" height="9.09"/>
<rect x="283.85" y="145.72" width="12.53" height="8.31"/>
<rect x="299.10" y="146.06" width="11.50" height="7.62"/>
<rect x="314.06" y="146.21" width="11.05" height="7.33"/>
<rect x="328.43" y="145.96" width="11.79" height="7.82"/>
<rect x="68.27" y="159.16" width="1.47" height="0.98"/>
<rect x="82.28" y="158.67" width="2.95" height="1.96"/>
<rect x="95.62" y="157.74" width="5.75" height="3.81"/>
<rect x="109.40" y="157.10" width="7.66" height="5.08"/>
<rect x="122.81" y="156.22" width="10.32" height="6.84"/>
<rect x="136.45" y="155.49" width="12.53" height="8.31"/>
<rect x="149.93" y="154.61" width="15.04" height="10.08"/>
<rect x="164.67" y="154.61" width="15.04" height="10.08"/>
<rect x="179.41" y="154.61" width="15.04" height="10.08"/>
<rect x="194.15" y="154.61" width="15.04" height="10.08"/>
<rect x="208.89" y="154.61" width="15.04" height="10.08"/>
<rect x="223.63" y="154.61" width="15.04" height="10.08"/>
<rect x="238.74" y="154.90" width="14.30" height="9.48"/>
<rect x="253.78" y="155.10" width="13.71" height="9.09"/>
<rect x="269.11" y="155.49" width="12.53" height="8.31"/>
<rect x="284.36" y="155.83" width="11.50" height="7.62"/>
<rect x="299.54" y="156.13" width="10.61" height="7.04"/>
<rect x="314.43" y="156.22" width="10.32" height="6.84"/>
<rect x="329.02" y="156.13" width="10.61" height="7.04"/>
<rect x="68.27" y="168.93" width="1.47" height="0.98"/>
<rect x="82.28" y="168.44" width="2.95" height="1.96"/>
<rect x="95.98" y="167.76" width="5.01" height="3.32"/>
<rect x="109.62" y="167.03" width="7.22" height="4.79"/>
<rect x="123.18" y="166.24" width="9.58" height="6.35"/>
<rect x="136.81" y="165.51" width="11.79" height="7.82"/>
<rect x="150.60" y="164.88" width="13.71" height="9.09"/>
<rect x="164.97" y="164.63" width="14.45" height="9.58"/>
<rect x="179.41" y="164.38" width="15.04" height="10.08"/>
<rect x="194.52" y="164.68" width="14.30" height="9.48"/>
<rect x="209.41" y="164.78" width="14.00" height="9.29"/>
<rect x="224.37" y="164.92" width="13.56" height="8.99"/>
<rect x="239.63" y="165.27" width="12.53" height="8.31"/>
<rect x="254.88" y="165.61" width="11.50" height="7.62"/>
<rect x="270.06" y="165.90" width="10.61" height="7.04"/>
<rect x="285.25" y="166.20" width="9.73" height="6.45"/>
<rect x="300.28" y="166.39" width="9.14" height="6.06"/>
<rect x="315.17" y="166.49" width="8.84" height="5.87"/>
<rect x="329.91" y="166.49" width="8.84" height="5.87"/>
<rect x="68.27" y="178.71" width="1.47" height="0.98"/>
<rect x="82.28" y="178.22" width="2.95" height="1.96"/>
<rect x="96.13" y="177.63" width="4.72" height="3.13"/>
<rect x="110.13" y="177.14" width="6.19" height="4.11"/>
<rect x="123.55" y="176.26" width="8.84" height="5.87"/>
<rect x="137.33" y="175.63" width="10.76" height="7.14"/>
<rect x="151.19" y="175.04" width="12.53" height="8.31"/>
<rect x="165.34" y="174.65" width="13.71" height="9.09"/>
<rect x="179.71" y="174.41" width="14.45" height="9.58"/>
<rect x="194.67" y="174.55" width="14.00" height="9.29"/>
<rect x="209.78" y="174.80" width="13.27" height="8.80"/>
<rect x="224.89" y="175.04" width="12.53" height="8.31"/>
<rect x="240.14" y="175.38" width="11.50" height="7.62"/>
<rect x="255.62" y="175.87" width="10.02" height="6.65"/>
<rect x="270.58" y="176.02" width="9.58" height="6.35"/>
<rect x="285.84" y="176.36" width="8.55" height="5.67"/>
<rect x="300.87" y="176.56" width="7.96" height="5.28"/>
<rect x="315.76" y="176.65" width="7.66" height="5.08"/>
<rect x="330.64" y="176.75" width="7.37" height="4.89"/>
<rect x="68.35" y="188.53" width="1.33" height="0.88"/>
<rect x="82.42" y="188.09" width="2.65" height="1.76"/>
<rect x="96.28" y="187.50" width="4.42" height="2.93"/>
<rect x="110.13" y="186.92" width="6.19" height="4.11"/>
<rect x="123.77" y="186.18" width="8.40" height="5.57"/>
<rect x="137.70" y="185.65" width="10.02" height="6.65"/>
<rect x="151.70" y="185.16" width="11.50" height="7.62"/>
<rect x="165.85" y="184.77" width="12.68" height="8.41"/>
<rect x="180.30" y="184.57" width="13.27" height="8.80"/>
<rect x="195.18" y="184.67" width="12.97" height="8.60"/>
<rect x="210.29" y="184.91" width="12.23" height="8.11"/>
<rect x="225.40" y="185.16" width="11.50" height="7.62"/>
<rect x="240.58" y="185.45" width="10.61" height="7.04"/>
<rect x="256.06" y="185.94" width="9.14" height="6.06"/>
<rect x="270.95" y="186.04" width="8.84" height="5.87"/>
<rect x="286.06" y="186.28" width="8.11" height="5.38"/>
<rect x="301.16" y="186.53" width="7.37" height="4.89"/>
<rect x="316.05" y="186.62" width="7.08" height="4.69"/>
<rect x="330.94" y="186.72" width="6.78" height="4.50"/>
<rect x="53.75" y="198.40" width="1.03" height="0.68"/>
<rect x="68.35" y="198.31" width="1.33" height="0.88"/>
<rect x="82.50" y="197.91" width="2.51" height="1.66"/>
<rect x="96.28" y="197.28" width="4.42" height="2.93"/>
<rect x="110.28" y="196.79" width="5.90" height="3.91"/>
<rect x="124.14" y="196.20" width="7.66" height="5.08"/>
<rect x="138.14" y="195.72" width="9.14" height="6.06"/>
<rect x="152.29" y="195.32" width="10.32" height="6.84"/>
<rect x="166.44" y="194.93" width="11.50" height="7.62"/>
<rect x="180.81" y="194.69" width="12.23" height="8.11"/>
<rect x="195.77" y="194.84" width="11.79" height="7.82"/>
<rect x="210.88" y="195.08" width="11.05" height="7.33"/>
<rect x="225.99" y="195.32" width="10.32" height="6.84"/>
<rect x="241.10" y="195.57" width="9.58" height="6.35"/>
<rect x="256.43" y="195.96" width="8.40" height="5.57"/>
<rect x="271.32" y="196.06" width="8.11" height="5.38"/>
<rect x="286.43" y="196.30" width="7.37" height="4.89"/>
<rect x="301.46" y="196.50" width="6.78" height="4.50"/>
<rect x="316.49" y="196.69" width="6.19" height="4.11"/>
<rect x="331.23" y="196.69" width="6.19" height="4.11"/>
<rect x="68.35" y="208.08" width="1.33" height="0.88"/>
<rect x="82.57" y="207.74" width="2.36" height="1.56"/>
<rect x="96.43" y="207.15" width="4.13" height="2.74"/>
<rect x="110.28" y="206.57" width="5.90" height="3.91"/>
<rect x="124.28" y="206.08" width="7.37" height="4.89"/>
<rect x="138.51" y="205.73" width="8.40" height="5.57"/>
<rect x="152.66" y="205.34" width="9.58" height="6.35"/>
<rect x="166.88" y="205.00" width="10.61" height="7.04"/>
<rect x="181.40" y="204.86" width="11.05" height="7.33"/>
<rect x="196.29" y="204.95" width="10.76" height="7.14"/>
<rect x="211.25" y="205.10" width="10.32" height="6.84"/>
<rect x="226.36" y="205.34" width="9.58" height="6.35"/>
<rect x="241.32" y="205.49" width="9.14" height="6.06"/>
<rect x="256.58" y="205.83" width="8.11" height="5.38"/>
<rect x="271.54" y="205.98" width="7.66" height="5.08"/>
<rect x="286.57" y="206.17" width="7.08" height="4.69"/>
<rect x="301.61" y="206.37" width="6.49" height="4.30"/>
<rect x="316.49" y="206.47" width="6.19" height="4.11"/>
<rect x="331.53" y="206.66" width="5.60" height="3.71"/>
<rect x="68.35" y="217.86" width="1.33" height="0.88"/>
<rect x="82.79" y="217.66" width="1.92" height="1.27"/>
<rect x="96.50" y="216.98" width="3.98" height="2.64"/>
<rect x="110.58" y="216.54" width="5.31" height="3.52"/>
<rect x="124.58" y="216.05" width="6.78" height="4.50"/>
<rect x="138.73" y="215.66" width="7.96" height="5.28"/>
<rect x="153.03" y="215.36" width="8.84" height="5.87"/>
<rect x="167.33" y="215.07" width="9.73" height="6.45"/>
<rect x="181.77" y="214.87" width="10.32" height="6.84"/>
<rect x="196.81" y="215.07" width="9.73" height="6.45"/>
<rect x="211.69" y="215.17" width="9.43" height="6.26"/>
<rect x="226.73" y="215.36" width="8.84" height="5.87"/>
<rect x="241.69" y="215.51" width="8.40" height="5.57"/>
<rect x="256.94" y="215.85" width="7.37" height="4.89"/>
<rect x="271.69" y="215.85" width="7.37" height="4.89"/>
<rect x="286.79" y="216.10" width="6.63" height="4.40"/>
<rect x="301.75" y="216.24" width="6.19" height="4.11"/>
<rect x="316.64" y="216.34" width="5.90" height="3.91"/>
<rect x="331.60" y="216.49" width="5.45" height="3.62"/>
<rect x="53.98" y="227.88" width="0.59" height="0.39"/>
<rect x="68.35" y="227.63" width="1.33" height="0.88"/>
<rect x="82.72" y="227.39" width="2.06" height="1.37"/>
<rect x="96.43" y="226.70" width="4.13" height="2.74"/>
<rect x="110.50" y="226.26" width="5.45" height="3.62"/>
<rect x="124.73" y="225.92" width="6.49" height="4.30"/>
<rect x="139.03" y="225.63" width="7.37" height="4.89"/>
<rect x="153.32" y="225.33" width="8.25" height="5.47"/>
<rect x="167.62" y="225.04" width="9.14" height="6.06"/>
<rect x="182.14" y="224.89" width="9.58" height="6.35"/>
<rect x="197.10" y="225.04" width="9.14" height="6.06"/>
<rect x="211.99" y="225.14" width="8.84" height="5.87"/>
<rect x="226.95" y="225.28" width="8.40" height="5.57"/>
<rect x="241.91" y="225.43" width="7.96" height="5.28"/>
<rect x="257.09" y="225.72" width="7.08" height="4.69"/>
<rect x="272.05" y="225.87" width="6.63" height="4.40"/>
<rect x="287.16" y="226.12" width="5.90" height="3.91"/>
<rect x="301.61" y="225.92" width="6.49" height="4.30"/>
<rect x="316.94" y="226.31" width="5.31" height="3.52"/>
<rect x="331.90" y="226.46" width="4.86" height="3.23"/>
<rect x="68.42" y="237.45" width="1.18" height="0.78"/>
<rect x="82.79" y="237.21" width="1.92" height="1.27"/>
<rect x="96.65" y="236.62" width="3.69" height="2.44"/>
<rect x="110.58" y="236.09" width="5.31" height="3.52"/>
<rect x="124.87" y="235.79" width="6.19" height="4.11"/>
<rect x="139.25" y="235.55" width="6.93" height="4.59"/>
<rect x="153.47" y="235.21" width="7.96" height="5.28"/>
<rect x="167.92" y="235.01" width="8.55" height="5.67"/>
<rect x="182.36" y="234.82" width="9.14" height="6.06"/>
<rect x="197.25" y="234.91" width="8.84" height="5.87"/>
<rect x="212.21" y="235.06" width="8.40" height="5.57"/>
<rect x="227.17" y="235.21" width="7.96" height="5.28"/>
<rect x="242.57" y="235.65" width="6.63" height="4.40"/>
<rect x="257.17" y="235.55" width="6.93" height="4.59"/>
<rect x="272.05" y="235.65" width="6.63" height="4.40"/>
<rect x="287.01" y="235.79" width="6.19" height="4.11"/>
<rect x="302.05" y="235.99" width="5.60" height="3.71"/>
<rect x="317.01" y="236.14" width="5.16" height="3.42"/>
<rect x="332.12" y="236.38" width="4.42" height="2.93"/>
<rect x="53.98" y="247.43" width="0.59" height="0.39"/>
<rect x="68.49" y="247.28" width="1.03" height="0.68"/>
<rect x="82.79" y="246.99" width="1.92" height="1.27"/>
<rect x="96.87" y="246.55" width="3.24" height="2.15"/>
<rect x="110.80" y="246.01" width="4.86" height="3.23"/>
<rect x="125.02" y="245.67" width="5.90" height="3.91"/>
<rect x="139.39" y="245.42" width="6.63" height="4.40"/>
<rect x="153.76" y="245.18" width="7.37" height="4.89"/>
<rect x="168.14" y="244.93" width="8.11" height="5.38"/>
<rect x="182.66" y="244.79" width="8.55" height="5.67"/>
<rect x="197.54" y="244.88" width="8.25" height="5.47"/>
<rect x="212.43" y="244.98" width="7.96" height="5.28"/>
<rect x="227.47" y="245.18" width="7.37" height="4.89"/>
<rect x="242.43" y="245.32" width="6.93" height="4.59"/>
<rect x="257.46" y="245.52" width="6.34" height="4.20"/>
<rect x="272.27" y="245.57" width="6.19" height="4.11"/>
<rect x="287.16" y="245.67" width="5.90" height="3.91"/>
<rect x="302.20" y="245.86" width="5.31" height="3.52"/>
<rect x="317.16" y="246.01" width="4.86" height="3.23"/>
<rect x="332.49" y="246.40" width="3.69" height="2.44"/>
<rect x="53.90" y="257.15" width="0.74" height="0.49"/>
<rect x="68.35" y="256.96" width="1.33" height="0.88"/>
<rect x="82.64" y="256.66" width="2.21" height="1.47"/>
<rect x="96.65" y="256.17" width="3.69" height="2.44"/>
<rect x="110.87" y="255.83" width="4.72" height="3.13"/>
<rect x="125.17" y="255.54" width="5.60" height="3.71"/>
<rect x="139.39" y="255.20" width="6.63" height="4.40"/>
<rect x="153.76" y="254.95" width="7.37" height="4.89"/>
<rect x="168.36" y="254.85" width="7.66" height="5.08"/>
<rect x="183.10" y="254.85" width="7.66" height="5.08"/>
<rect x="197.99" y="254.95" width="7.37" height="4.89"/>
<rect x="212.87" y="255.05" width="7.08" height="4.69"/>
<rect x="227.69" y="255.10" width="6.93" height="4.59"/>
<rect x="242.79" y="255.34" width="6.19" height="4.11"/>
<rect x="257.68" y="255.44" width="5.90" height="3.91"/>
<rect x="272.57" y="255.54" width="5.60" height="3.71"/>
<rect x="287.46" y="255.64" width="5.31" height="3.52"/>
<rect x="302.34" y="255.73" width="5.01" height="3.32"/>
<rect x="317.38" y="255.93" width="4.42" height="2.93"/>
<rect x="332.49" y="256.17" width="3.69" height="2.44"/>
<rect x="68.35" y="266.73" width="1.33" height="0.88"/>
<rect x="82.72" y="266.49" width="2.06" height="1.37"/>
<rect x="96.57" y="265.90" width="3.83" height="2.54"/>
<rect x="110.65" y="265.46" width="5.16" height="3.42"/>
<rect x="125.32" y="265.41" width="5.31" height="3.52"/>
<rect x="139.61" y="265.12" width="6.19" height="4.11"/>
<rect x="154.13" y="264.97" width="6.63" height="4.40"/>
<rect x="168.65" y="264.82" width="7.08" height="4.69"/>
<rect x="183.39" y="264.82" width="7.08" height="4.69"/>
<rect x="198.28" y="264.92" width="6.78" height="4.50"/>
<rect x="213.09" y="264.97" width="6.63" height="4.40"/>
<rect x="228.05" y="265.12" width="6.19" height="4.11"/>
<rect x="242.94" y="265.22" width="5.90" height="3.91"/>
<rect x="258.05" y="265.46" width="5.16" height="3.42"/>
<rect x="272.72" y="265.41" width="5.31" height="3.52"/>
<rect x="287.53" y="265.46" width="5.16" height="3.42"/>
<rect x="302.49" y="265.61" width="4.72" height="3.13"/>
<rect x="317.53" y="265.80" width="4.13" height="2.74"/>
<rect x="332.49" y="265.95" width="3.69" height="2.44"/>
<rect x="68.35" y="276.51" width="1.33" height="0.88"/>
<rect x="83.01" y="276.46" width="1.47" height="0.98"/>
<rect x="96.72" y="275.77" width="3.54" height="2.35"/>
<rect x="111.02" y="275.48" width="4.42" height="2.93"/>
<rect x="125.39" y="275.24" width="5.16" height="3.42"/>
<rect x="139.91" y="275.09" width="5.60" height="3.71"/>
<rect x="154.35" y="274.89" width="6.19" height="4.11"/>
<rect x="168.95" y="274.80" width="6.49" height="4.30"/>
<rect x="183.83" y="274.89" width="6.19" height="4.11"/>
<rect x="198.72" y="274.99" width="5.90" height="3.91"/>
<rect x="213.46" y="274.99" width="5.90" height="3.91"/>
<rect x="228.35" y="275.09" width="5.60" height="3.71"/>
<rect x="243.31" y="275.24" width="5.16" height="3.42"/>
<rect x="258.42" y="275.48" width="4.42" height="2.93"/>
<rect x="272.94" y="275.33" width="4.86" height="3.23"/>
<rect x="287.90" y="275.48" width="4.42" height="2.93"/>
<rect x="302.86" y="275.63" width="3.98" height="2.64"/>
<rect x="317.82" y="275.77" width="3.54" height="2.35"/>
<rect x="332.86" y="275.97" width="2.95" height="1.96"/>
<rect x="53.90" y="286.48" width="0.74" height="0.49"/>
<rect x="68.42" y="286.33" width="1.18" height="0.78"/>
<rect x="82.87" y="286.13" width="1.77" height="1.17"/>
<rect x="97.02" y="285.74" width="2.95" height="1.96"/>
<rect x="111.24" y="285.40" width="3.98" height="2.64"/>
<rect x="125.91" y="285.35" width="4.13" height="2.74"/>
<rect x="140.28" y="285.11" width="4.86" height="3.23"/>
<rect x="154.87" y="285.01" width="5.16" height="3.42"/>
<rect x="169.61" y="285.01" width="5.16" height="3.42"/>
<rect x="184.35" y="285.01" width="5.16" height="3.42"/>
<rect x="199.24" y="285.11" width="4.86" height="3.23"/>
<rect x="214.20" y="285.25" width="4.42" height="2.93"/>
<rect x="228.94" y="285.25" width="4.42" height="2.93"/>
<rect x="243.90" y="285.40" width="3.98" height="2.64"/>
<rect x="259.01" y="285.65" width="3.24" height="2.15"/>
<rect x="273.45" y="285.45" width="3.83" height="2.54"/>
<rect x="288.19" y="285.45" width="3.83" height="2.54"/>
<rect x="303.38" y="285.74" width="2.95" height="1.96"/>
<rect x="318.12" y="285.74" width="2.95" height="1.96"/>
<rect x="333.00" y="285.84" width="2.65" height="1.76"/>
<rect x="68.42" y="296.10" width="1.18" height="0.78"/>
<rect x="82.87" y="295.91" width="1.77" height="1.17"/>
<rect x="97.31" y="295.71" width="2.36" height="1.56"/>
<rect x="111.76" y="295.52" width="2.95" height="1.96"/>
<rect x="126.86" y="295.76" width="2.21" height="1.47"/>
<rect x="141.24" y="295.52" width="2.95" height="1.96"/>
<rect x="155.98" y="295.52" width="2.95" height="1.96"/>
<rect x="170.72" y="295.52" width="2.95" height="1.96"/>
<rect x="185.46" y="295.52" width="2.95" height="1.96"/>
<rect x="200.20" y="295.52" width="2.95" height="1.96"/>
<rect x="215.08" y="295.62" width="2.65" height="1.76"/>
<rect x="229.82" y="295.62" width="2.65" height="1.76"/>
<rect x="244.42" y="295.52" width="2.95" height="1.96"/>
<rect x="259.45" y="295.71" width="2.36" height="1.56"/>
<rect x="274.19" y="295.71" width="2.36" height="1.56"/>
<rect x="289.15" y="295.86" width="1.92" height="1.27"/>
<rect x="319.07" y="296.15" width="1.03" height="0.68"/>
<rect x="333.22" y="295.76" width="2.21" height="1.47"/>
</g>
</g>
<g shape-rendering="crispEdges">
<rect x="343.80" y="294.45" width="16.60" height="6.50" fill="#f4efef"/>
<rect x="343.80" y="288.61" width="16.60" height="5.90" fill="#f4eeee"/>
<rect x="343.80" y="282.76" width="16.60" height="5.90" fill="#f4eeee"/>
<rect x="343.80" y="276.92" width="16.60" height="5.90" fill="#f4eeee"/>
<rect x="343.80" y="271.07" width="16.60" height="5.90" fill="#f5eded"/>
<rect x="343.80" y="265.22" width="16.60" height="5.90" fill="#f5eded"/>
<rect x="343.80" y="259.38" width="16.60" height="5.90" fill="#f5eded"/>
<rect x="343.80" y="253.53" width="16.60" height="5.90" fill="#f5ecec"/>
<rect x="343.80" y="247.69" width="16.60" height="5.90" fill="#f5ecec"/>
<rect x="343.80" y="241.84" width="16.60" height="5.90" fill="#f5ebeb"/>
<rect x="343.80" y="235.99" width="16.60" height="5.90" fill="#f5eaea"/>
<rect x="343.80" y="230.15" width="16.60" height="5.90" fill="#f5e9e9"/>
<rect x="343.80" y="224.30" width="16.60" height="5.90" fill="#f5e8e8"/>
<rect x="343.80" y="218.46" width="16.60" height="5.90" fill="#f5e8e8"/>
<rect x="343.80" y="212.61" width="16.60" height="5.90" fill="#f5e7e7"/>
<rect x="343.80" y="206.76" width="16.60" height="5.90" fill="#f5e6e6"/>
<rect x="343.80" y="200.92" width="16.60" height="5.90" fill="#f5e5e4"/>
<rect x="343.80" y="195.07" width="16.60" height="5.90" fill="#f6e3e3"/>
<rect x="343.80" y="189.23" width="16.60" height="5.90" fill="#f6e2e1"/>
<rect x="343.80" y="183.38" width="16.60" height="5.90" fill="#f6e0e0"/>
<rect x="343.80" y="177.53" width="16.60" height="5.90" fill="#f6dfde"/>
<rect x="343.80" y="171.69" width="16.60" height="5.90" fill="#f6dedc"/>
<rect x="343.80" y="165.84" width="16.60" height="5.90" fill="#f7dcdb"/>
<rect x="343.80" y="160.00" width="16.60" height="5.90" fill="#f7dbd9"/>
<rect x="343.80" y="154.15" width="16.60" height="5.90" fill="#f7d9d7"/>
<rect x="343.80" y="148.30" width="16.60" height="5.90" fill="#f7d7d5"/>
<rect x="343.80" y="142.46" width="16.60" height="5.90" fill="#f7d5d2"/>
<rect x="343.80" y="136.61" width="16.60" height="5.90" fill="#f8d3d0"/>
<rect x="343.80" y="130.77" width="16.60" height="5.90" fill="#f8d1ce"/>
<rect x="343.80" y="124.92" width="16.60" height="5.90" fill="#f8cfcc"/>
<rect x="343.80" y="119.07" width="16.60" height="5.90" fill="#f8cdca"/>
<rect x="343.80" y="113.23" width="16.60" height="5.90" fill="#f8cac7"/>
<rect x="343.80" y="107.38" width="16.60" height="5.90" fill="#f8c8c4"/>
<rect x="343.80" y="101.54" width="16.60" height="5.90" fill="#f8c6c1"/>
<rect x="343.80" y="95.69" width="16.60" height="5.90" fill="#f8c4be"/>
<rect x="343.80" y="89.84" width="16.60" height="5.90" fill="#f9c2bb"/>
<rect x="343.80" y="84.00" width="16.60" height="5.90" fill="#f9bfb8"/>
<rect x="343.80" y="78.15" width="16.60" height="5.90" fill="#f9bdb5"/>
<rect x="343.80" y="72.31" width="16.60" height="5.90" fill="#f9bbb2"/>
<rect x="343.80" y="66.46" width="16.60" height="5.90" fill="#f9b9af"/>
<rect x="343.80" y="60.61" width="16.60" height="5.90" fill="#f9b6ab"/>
<rect x="343.80" y="54.77" width="16.60" height="5.90" fill="#f9b3a7"/>
<rect x="343.80" y="48.92" width="16.60" height="5.90" fill="#fab0a2"/>
<rect x="343.80" y="43.08" width="16.60" height="5.90" fill="#faad9e"/>
<rect x="343.80" y="37.23" width="16.60" height="5.90" fill="#faaa9a"/>
<rect x="343.80" y="31.38" width="16.60" height="5.90" fill="#faa896"/>
<rect x="343.80" y="25.54" width="16.60" height="5.90" fill="#faa593"/>
<rect x="343.80" y="19.69" width="16.60" height="5.90" fill="#faa390"/>
<rect x="343.80" y="13.85" width="16.60" height="5.90" fill="#faa18c"/>
<rect x="343.80" y="8.00" width="16.60" height="5.90" fill="#fa9e89"/>
</g>
<g stroke="#000" stroke-width="1" fill="none">
<path d="M46.90 8.00H341.70V300.30" stroke="#000" stroke-width="0.6"/>
<path d="M46.90 7.50V300.30H342.20" stroke-width="1.1"/>
<line x1="360.40" y1="8.00" x2="360.40" y2="300.30" stroke-width="0.6"/>
<path d="M46.90 300.30v-7.3M52.80 300.30v-3.4M58.69 300.30v-3.4M64.59 300.30v-3.4M70.48 300.30v-3.4M76.38 300.30v-7.3M82.28 300.30v-3.4M88.17 300.30v-3.4M94.07 300.30v-3.4M99.96 300.30v-3.4M105.86 300.30v-7.3M111.76 300.30v-3.4M117.65 300.30v-3.4M123.55 300.30v-3.4M129.44 300.30v-3.4M135.34 300.30v-7.3M141.24 300.30v-3.4M147.13 300.30v-3.4M153.03 300.30v-3.4M158.92 300.30v-3.4M164.82 300.30v-7.3M170.72 300.30v-3.4M176.61 300.30v-3.4M182.51 300.30v-3.4M188.40 300.30v-3.4M194.30 300.30v-7.3M200.20 300.30v-3.4M206.09 300.30v-3.4M211.99 300.30v-3.4M217.88 300.30v-3.4M223.78 300.30v-7.3M229.68 300.30v-3.4M235.57 300.30v-3.4M241.47 300.30v-3.4M247.36 300.30v-3.4M253.26 300.30v-7.3M259.16 300.30v-3.4M265.05 300.30v-3.4M270.95 300.30v-3.4M276.84 300.30v-3.4M282.74 300.30v-7.3M288.64 300.30v-3.4M294.53 300.30v-3.4M300.43 300.30v-3.4M306.32 300.30v-3.4M312.22 300.30v-7.3M318.12 300.30v-3.4M324.01 300.30v-3.4M329.91 300.30v-3.4M335.80 300.30v-3.4M341.70 300.30v-7.3M46.90 300.30h9.2M46.90 290.56h5.3M46.90 280.81h5.3M46.90 271.07h5.3M46.90 261.33h5.3M46.90 251.58h9.2M46.90 241.84h5.3M46.90 232.10h5.3M46.90 222.35h5.3M46.90 212.61h5.3M46.90 202.87h9.2M46.90 193.12h5.3M46.90 183.38h5.3M46.90 173.64h5.3M46.90 163.89h5.3M46.90 154.15h9.2M46.90 144.41h5.3M46.90 134.66h5.3M46.90 124.92h5.3M46.90 115.18h5.3M46.90 105.43h9.2M46.90 95.69h5.3M46.90 85.95h5.3M46.90 76.20h5.3M46.90 66.46h5.3M46.90 56.72h9.2M46.90 46.97h5.3M46.90 37.23h5.3M46.90 27.49h5.3M46.90 17.74h5.3M46.90 8.00h9.2M360.40 300.30h-9.6M360.40 254.60h-9.6M360.40 208.90h-9.6M360.40 163.20h-9.6M360.40 117.50h-9.6M360.40 71.80h-9.6M360.40 26.10h-9.6"/>
</g>
<g>
<circle cx="126.7" cy="117.0" r="2.4"/>
<circle cx="137.7" cy="123.5" r="2.4"/>
<circle cx="191.7" cy="124.8" r="2.4"/>
<circle cx="187.1" cy="128.6" r="2.4"/>
<circle cx="192.4" cy="129.0" r="2.4"/>
<circle cx="185.3" cy="148.9" r="2.4"/>
<circle cx="206.1" cy="139.4" r="2.4"/>
<circle cx="221.6" cy="137.8" r="2.4"/>
<circle cx="231.4" cy="143.7" r="2.4"/>
<circle cx="335.2" cy="123.3" r="2.4"/>
<circle cx="280.2" cy="138.8" r="2.4"/>
<circle cx="282.5" cy="145.5" r="2.4"/>
<circle cx="294.7" cy="150.8" r="2.4"/>
<circle cx="309.0" cy="146.0" r="2.4"/>
<circle cx="327.5" cy="147.2" r="2.4"/>
<circle cx="293.2" cy="155.9" r="2.4"/>
<circle cx="279.0" cy="166.4" r="2.4"/>
<circle cx="193.8" cy="174.2" r="2.4"/>
<circle cx="223.0" cy="164.3" r="2.4"/>
<circle cx="246.9" cy="160.1" r="2.4"/>
<circle cx="265.0" cy="163.0" r="2.4"/>
<circle cx="268.0" cy="188.9" r="2.4"/>
<circle cx="197.0" cy="190.8" r="2.4"/>
<circle cx="197.4" cy="195.0" r="2.4"/>
<circle cx="270.3" cy="198.5" r="2.4"/>
<circle cx="109.3" cy="245.4" r="2.4"/>
<circle cx="134.8" cy="210.2" r="2.4"/>
<circle cx="151.3" cy="212.0" r="2.4"/>
<circle cx="159.8" cy="210.6" r="2.4"/>
<circle cx="177.7" cy="226.5" r="2.4"/>
<circle cx="133.6" cy="235.4" r="2.4"/>
<circle cx="164.2" cy="247.7" r="2.4"/>
<circle cx="154.0" cy="252.6" r="2.4"/>
<circle cx="241.6" cy="217.4" r="2.4"/>
<circle cx="223.4" cy="221.2" r="2.4"/>
<circle cx="216.8" cy="224.4" r="2.4"/>
<circle cx="215.9" cy="237.8" r="2.4"/>
<circle cx="311.5" cy="240.0" r="2.4"/>
<circle cx="110.5" cy="273.6" r="2.4"/>
<circle cx="164.7" cy="268.4" r="2.4"/>
<circle cx="122.9" cy="281.9" r="2.4"/>
<circle cx="167.6" cy="286.0" r="2.4"/>
<circle cx="172.5" cy="290.5" r="2.4"/>
<circle cx="194.6" cy="286.3" r="2.4"/>
<circle cx="255.9" cy="261.6" r="2.4"/>
</g>
<g font-size="11.2">
<g text-anchor="middle">
<text x="46.9" y="314.6">0</text>
<text x="76.4" y="314.6">0.1</text>
<text x="105.9" y="314.6">0.2</text>
<text x="135.3" y="314.6">0.3</text>
<text x="164.8" y="314.6">0.4</text>
<text x="194.3" y="314.6">0.5</text>
<text x="223.8" y="314.6">0.6</text>
<text x="253.3" y="314.6">0.7</text>
<text x="282.7" y="314.6">0.8</text>
<text x="312.2" y="314.6">0.9</text>
<text x="341.7" y="314.6">1</text>
</g>
<g text-anchor="end">
<text x="41.5" y="12.7">2</text>
<text x="41.5" y="61.5">1.5</text>
<text x="41.5" y="110.2">1</text>
<text x="41.5" y="158.8">0.5</text>
<text x="41.5" y="207.5">0</text>
<text x="41.5" y="256.3">−0.5</text>
<text x="41.5" y="306.2">−1</text>
</g>
<g>
<text x="364.8" y="304.9">0</text>
<text x="364.8" y="259.2">0.02</text>
<text x="364.8" y="213.5">0.04</text>
<text x="364.8" y="167.8">0.06</text>
<text x="364.8" y="122.1">0.08</text>
<text x="364.8" y="76.4">0.1</text>
<text x="364.8" y="30.7">0.12</text>
</g>
</g>
<text x="350.3" y="335.6" font-size="12.75" text-anchor="end">J<tspan font-size="9.5" dy="-4.8">P</tspan><tspan dy="4.8">-MELA discriminant</tspan></text>
<text transform="translate(10.3 110.0) rotate(-90)" font-size="13.1">BDT<tspan font-size="9" dy="4.4">ZZ</tspan><tspan dy="-4.4"> discriminant</tspan></text>
<circle cx="71.2" cy="23" r="2.4"/>
<rect x="61.6" y="36.6" width="19.2" height="16.1" fill="#1793ff"/>
<rect x="61.6" y="58.6" width="19.2" height="15.7" fill="#f7967d"/>
<g font-size="10.4">
<text x="85" y="26.6">Data</text>
<text x="85" y="48.3">Signal J<tspan font-size="8" dy="-4.0" dx="-0.2">P</tspan><tspan dy="4.0" dx="-0.4"> = 0</tspan><tspan font-size="7" dy="-4.9">+</tspan><tspan dy="4.9" dx="-0.7"> SM</tspan></text>
<text x="85" y="69.8">Background ZZ<tspan dy="-1.8">*</tspan><tspan dy="1.8"> + Zjets</tspan></text>
</g>
<text x="262" y="25.4" font-size="14" font-weight="bold" font-style="italic">ATLAS</text>
<g font-size="13.3"><text x="227.6" y="48.6">H</text><text x="253.9" y="48.6">ZZ*</text><text x="297.5" y="48.6">4l</text></g>
<g font-size="15"><text transform="translate(232.9 46.6) scale(1.31 1)">→</text><text transform="translate(276.9 46.6) scale(1.31 1)">→</text></g>
<g font-size="10.5" style="word-spacing:0.3px">
<text transform="translate(228.3 70.9) scale(0.9 1.27)">√</text>
<text x="233.3" y="70.9">s = 7 TeV, 4.5 fb<tspan font-size="7.2" dy="-4.6">-1</tspan></text>
<line x1="233.1" y1="60.60" x2="238.4" y2="60.60" stroke="#000" stroke-width="0.7"/>
<text transform="translate(228.3 83.7) scale(0.9 1.27)">√</text>
<text x="233.3" y="83.7">s = 8 TeV, 20.3 fb<tspan font-size="7.2" dy="-4.6">-1</tspan></text>
<line x1="233.1" y1="73.40" x2="238.4" y2="73.40" stroke="#000" stroke-width="0.7"/>
</g>
</svg>
</body></html>
